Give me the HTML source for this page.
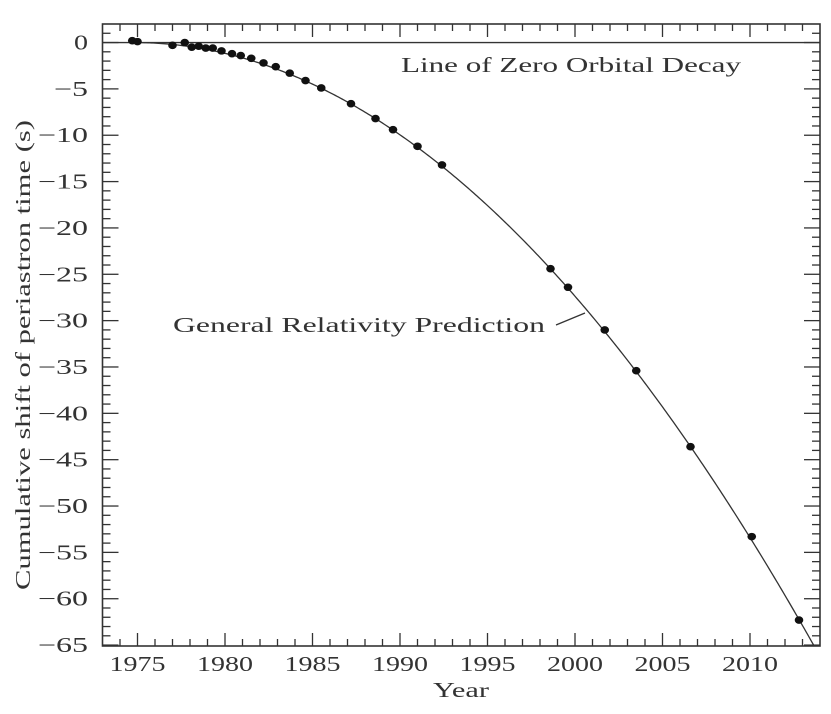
<!DOCTYPE html>
<html><head><meta charset="utf-8"><style>
html,body{margin:0;padding:0;background:#fff;}
svg{display:block;font-family:"Liberation Serif",serif;}
</style></head><body>
<svg id="chart" width="831" height="714" viewBox="0 0 831 714">
<g id="axes"></g>
<g id="marks"></g>
<text x="571" y="72" font-size="21" fill="#333" text-anchor="middle" textLength="340" lengthAdjust="spacingAndGlyphs">Line of Zero Orbital Decay</text>
<text x="359" y="332" font-size="21" fill="#333" text-anchor="middle" textLength="372" lengthAdjust="spacingAndGlyphs">General Relativity Prediction</text>
<line x1="556" y1="325" x2="585" y2="313" stroke="#333" stroke-width="1.3"/>
<text x="461" y="697" font-size="21" fill="#333" text-anchor="middle" textLength="56" lengthAdjust="spacingAndGlyphs">Year</text>
<text transform="translate(30,355) rotate(-90)" font-size="21" fill="#333" text-anchor="middle" textLength="470" lengthAdjust="spacingAndGlyphs">Cumulative shift of periastron time (s)</text>
</svg>
<script>
const years = [1974.7,1975.0,1977.0,1977.7,1978.1,1978.5,1978.9,1979.3,1979.8,1980.4,1980.9,1981.5,1982.2,1982.9,1983.7,1984.6,1985.5,1987.2,1988.6,1989.6,1991.0,1992.4,1998.6,1999.6,2001.7,2003.5,2006.6,2010.1,2012.8];
const shifts = [0.2,0.1,-0.3,0.0,-0.5,-0.4,-0.6,-0.6,-0.9,-1.2,-1.4,-1.7,-2.2,-2.6,-3.3,-4.1,-4.9,-6.6,-8.2,-9.4,-11.2,-13.2,-24.4,-26.4,-31.0,-35.4,-43.6,-53.3,-62.3];
const xTicks = [1975,1980,1985,1990,1995,2000,2005,2010];
const yTicks = [0,-5,-10,-15,-20,-25,-30,-35,-40,-45,-50,-55,-60,-65];
const grStart = [1974.8];
const grCoef = [0.0431];
const X0=102.5,X1=820,Y0=24,Y1=646, xmin=1973,xmax=2014,ymin=-65.1,ymax=2.0;
const sx=v=>X0+(v-xmin)/(xmax-xmin)*(X1-X0);
const sy=v=>Y0+(ymax-v)/(ymax-ymin)*(Y1-Y0);
const NS='http://www.w3.org/2000/svg';
function mk(tag,attrs,parent){const e=document.createElementNS(NS,tag);for(const k in attrs)e.setAttribute(k,attrs[k]);parent.appendChild(e);return e;}
const axes=document.getElementById('axes'), marks=document.getElementById('marks');
const frame=mk('rect',{x:X0,y:Y0,width:X1-X0,height:Y1-Y0,fill:'none',stroke:'#333','stroke-width':1.6},axes);


for(let yr=1974;yr<=2013;yr++){
  const major=yr%5===0, L=major?13:7, x=sx(yr);
  const t1=mk('line',{x1:x,y1:Y1,x2:x,y2:Y1-L,stroke:'#333','stroke-width':1.3},axes);
  
  
  const t2=mk('line',{x1:x,y1:Y0,x2:x,y2:Y0+L,stroke:'#333','stroke-width':1.3},axes);
  
  
}
xTicks.forEach(v=>{
  const t=mk('text',{x:sx(v),y:671,'font-size':21,fill:'#333','text-anchor':'middle',textLength:56,lengthAdjust:'spacingAndGlyphs'},axes);
  t.textContent=v;
  
  
});
for(let v=1;v>=-65;v--){
  const major=v%5===0, L=major?16:8, y=sy(v);
  const t1=mk('line',{x1:X0,y1:y,x2:X0+L,y2:y,stroke:'#333','stroke-width':1.3},axes);
  
  
  const t2=mk('line',{x1:X1,y1:y,x2:X1-L,y2:y,stroke:'#333','stroke-width':1.3},axes);
  
  
}
yTicks.forEach(v=>{
  const s=v===0?'0':'\u2212'+Math.abs(v);
  const w=v===0?14:(Math.abs(v)<10?34:50);
  const t=mk('text',{x:88,y:sy(v)+7,'font-size':21,fill:'#333','text-anchor':'end',textLength:w,lengthAdjust:'spacingAndGlyphs'},axes);
  t.textContent=s;
  
  
});
const zl=mk('line',{x1:X0,y1:sy(0),x2:X1,y2:sy(0),stroke:'#333','stroke-width':1.3},marks);


let d='';
for(let t=grStart[0];t<=2014;t+=0.1){
  const v=-grCoef[0]*(t-grStart[0])**2;
  if(v<ymin)break;
  d+=(d?'L':'M')+sx(t).toFixed(2)+','+sy(v).toFixed(2);
}
const tEnd=grStart[0]+Math.sqrt(-ymin/grCoef[0]);
d+='L'+sx(tEnd).toFixed(2)+','+sy(ymin).toFixed(2);
const gr=mk('path',{d:d,fill:'none',stroke:'#333','stroke-width':1.3},marks);


years.forEach((yr,i)=>{
  const c=mk('ellipse',{cx:sx(yr),cy:sy(shifts[i]),rx:4.3,ry:3.8,fill:'#111'},marks);
  
  
});
</script>
</body></html>
